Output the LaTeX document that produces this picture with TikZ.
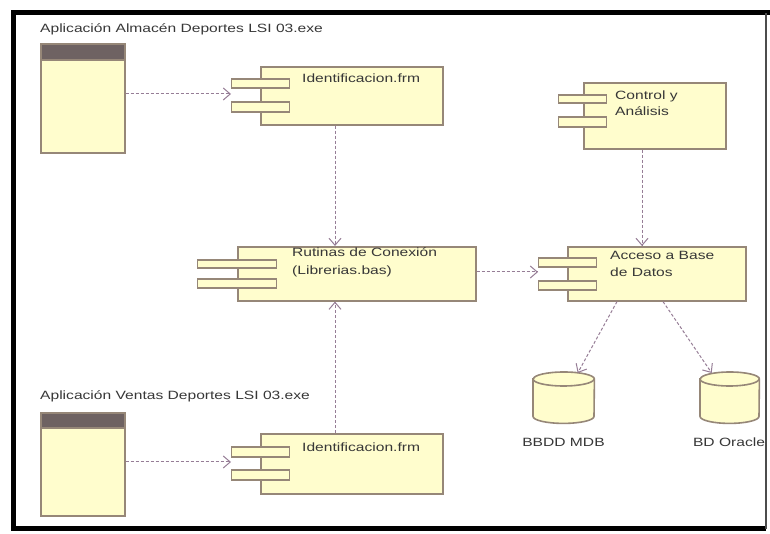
\documentclass[tikz,border=0pt]{standalone}
\usepackage{fontspec}
\setmainfont{Liberation Sans}[FakeStretch=1.3]
\usetikzlibrary{arrows.meta,calc}
\definecolor{fillY}{RGB}{255,253,205}
\definecolor{bord}{RGB}{150,135,120}
\definecolor{headc}{RGB}{110,98,98}
\definecolor{depc}{RGB}{150,125,150}
\definecolor{txt}{RGB}{55,55,55}
\begin{document}
\begin{tikzpicture}[x=1pt,y=1pt,
  box/.style={draw=bord, fill=fillY, line width=1.6pt, inner sep=0pt, rectangle, anchor=north west},
  port/.style={draw=bord, fill=fillY, line width=1.4pt, inner sep=0pt, rectangle, anchor=west},
  hdr/.style={draw=bord, fill=headc, line width=1.6pt, inner sep=0pt, rectangle, anchor=north west},
  dep/.style={draw=depc, line width=1pt, dash pattern=on 3pt off 2pt, -{Straight Barb[length=7pt,width=12pt,line width=1pt]}},
  lbl/.style={font=\fontsize{12}{14}\selectfont, text=txt, inner sep=0pt, anchor=base west},
  cyl/.style={draw=bord, fill=fillY, line width=1.6pt}
]
\useasboundingbox (0,0) rectangle (770,534);
\fill[white] (0,0) rectangle (770,534);
% frame
\draw[line width=5pt] (770,521) -- (13,521) -- (13,5) -- (766,5);
\draw[line width=1.2pt, black!70] (766,5) -- (766,521);

% application 1
\node[lbl] (t1) at (40,501) {Aplicación Almacén Deportes LSI 03.exe};
\node[box, minimum width=84pt, minimum height=109pt] (app1) at (40,491) {};
\node[hdr, minimum width=84pt, minimum height=16pt] (app1h) at (40,491) {};

% Identificacion 1
\node[box, minimum width=182pt, minimum height=58pt] (id1) at (260,468) {};
\node[port, minimum width=58pt, minimum height=9pt] (id1p1) at (231,450.5) {};
\node[port, minimum width=58pt, minimum height=10pt] (id1p2) at (231,427) {};
\node[lbl] (id1t) at (302,451) {Identificacion.frm};
\coordinate (id1in) at (231,440);

% Control y Analisis
\node[box, minimum width=142pt, minimum height=66pt] (ctl) at (583,452) {};
\node[port, minimum width=48pt, minimum height=8pt] (ctlp1) at (558,435) {};
\node[port, minimum width=48pt, minimum height=10pt] (ctlp2) at (558,412) {};
\node[lbl] (ctlt1) at (615,434) {Control y};
\node[lbl] (ctlt2) at (615,418) {Análisis};

% Rutinas de Conexion
\node[box, minimum width=238pt, minimum height=54pt] (rut) at (237,288) {};
\node[port, minimum width=79pt, minimum height=8pt] (rutp1) at (197,270) {};
\node[port, minimum width=79pt, minimum height=9pt] (rutp2) at (197,250.5) {};
\node[lbl] (rutt1) at (292,277) {Rutinas de Conexión};
\node[lbl] (rutt2) at (292,259) {(Librerias.bas)};

% Acceso a Base de Datos
\node[box, minimum width=178pt, minimum height=54pt] (acc) at (567,288) {};
\node[port, minimum width=58pt, minimum height=9pt] (accp1) at (538,271.5) {};
\node[port, minimum width=58pt, minimum height=9pt] (accp2) at (538,248.5) {};
\node[lbl] (acct1) at (610,274) {Acceso a Base};
\node[lbl] (acct2) at (610,257) {de Datos};
\coordinate (accin) at (538,262);

% application 2
\node[lbl] (t2) at (40,134) {Aplicación Ventas Deportes LSI 03.exe};
\node[box, minimum width=84pt, minimum height=103pt] (app2) at (40,122) {};
\node[hdr, minimum width=84pt, minimum height=15pt] (app2h) at (40,122) {};

% Identificacion 2
\node[box, minimum width=182pt, minimum height=60pt] (id2) at (260,101) {};
\node[port, minimum width=58pt, minimum height=10pt] (id2p1) at (231,82) {};
\node[port, minimum width=58pt, minimum height=10pt] (id2p2) at (231,59) {};
\node[lbl] (id2t) at (302,82) {Identificacion.frm};
\coordinate (id2in) at (231,72);

% databases
\node[inner sep=0pt, minimum width=61pt, minimum height=51pt, anchor=north west] (mdb) at (533,162) {};
\node[inner sep=0pt, minimum width=59pt, minimum height=51pt, anchor=north west] (ora) at (700,162) {};
\foreach \c/\r in {mdb/30.5, ora/29.5}{
  \path[cyl] ($(\c.north west)+(0,-7)$) -- ($(\c.south west)+(0,7)$)
     arc[start angle=180, end angle=360, x radius=\r, y radius=7]
     -- ($(\c.north east)+(0,-7)$)
     arc[start angle=0, end angle=180, x radius=\r, y radius=7] -- cycle;
  \draw[draw=bord, line width=1.6pt] ($(\c.north west)+(0,-7)$)
     arc[start angle=180, end angle=360, x radius=\r, y radius=7];
}
\node[lbl, anchor=base] (mdbt) at (563.5,87) {BBDD MDB};
\node[lbl, anchor=base] (orat) at (729,87) {BD Oracle};

% dependencies
\draw[dep] (app1.east |- id1in) -- (id1in);
\draw[dep] (app2.east |- id2in) -- (id2in);
\draw[dep] (id1.south -| 335,0) -- (rut.north -| 335,0);
\draw[dep] (id2.north -| 335,0) -- (rut.south -| 335,0);
\draw[dep] (ctl.south -| 642,0) -- (acc.north -| 642,0);
\draw[dep] (rut.east |- accin) -- (accin);
\draw[dep] (acc.south -| 617,0) -- ($(mdb.north)+(14,-1)$);
\draw[dep] (acc.south -| 663,0) -- ($(ora.north)+(-18,-1)$);
\end{tikzpicture}
\end{document}
